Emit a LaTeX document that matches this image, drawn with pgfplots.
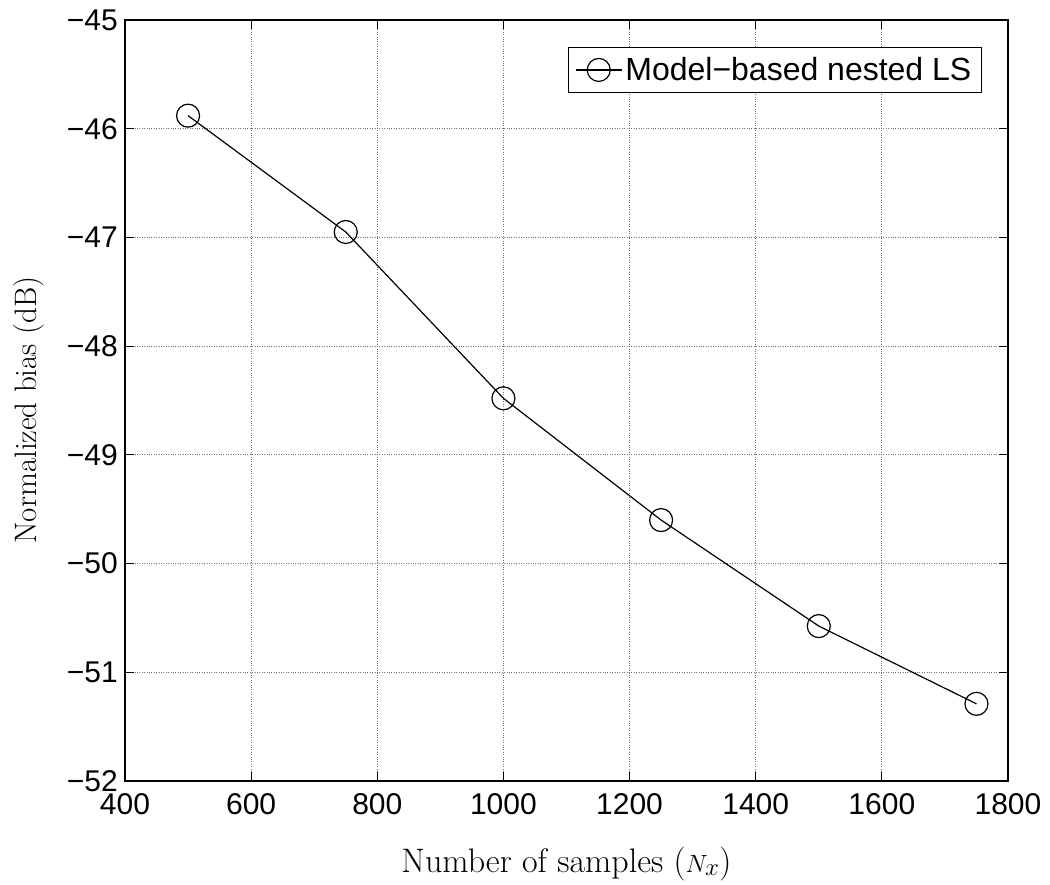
\documentclass[border=0pt]{standalone}
\usepackage{fontspec}
\newfontfamily\hv{Liberation Sans}
\usepackage{pgfplots}
\pgfplotsset{compat=1.18}
\begin{document}
\begin{tikzpicture}
\begin{axis}[
  scale only axis,
  width=883pt, height=761pt,
  xmin=400, xmax=1800, ymin=-52, ymax=-45,
  xtick={400,600,800,1000,1200,1400,1600,1800},
  xticklabels={400,600,800,1000,1200,1400,1600,1800},
  ytick={-52,-51,-50,-49,-48,-47,-46,-45},
  yticklabels={−52,−51,−50,−49,−48,−47,−46,−45},
  tick align=inside,
  major tick length=9pt,
  tick style={line width=1pt, black},
  axis line style={line width=1.3pt},
  grid=major,
  major grid style={dotted, line width=1pt, black!55},
  ticklabel style={font=\hv\fontsize{30}{30}\selectfont, inner sep=0pt},
  yticklabel style={anchor=east, xshift=-7pt},
  xticklabel style={anchor=north, yshift=-12pt},
  xlabel={Number of samples ($N_x$)},
  ylabel={Normalized bias (dB)},
  xlabel style={font=\fontsize{34}{34}\selectfont, at={(axis description cs:0.5,0)}, anchor=base, yshift=-91pt},
  ylabel style={font=\fontsize{31}{31}\selectfont, at={(axis description cs:-0.1087,0.4875)}, anchor=center},
  legend style={at={(axis description cs:1,1)}, anchor=north east, xshift=-26pt, yshift=-27pt,
    draw=black, line width=1.2pt, inner xsep=7pt, inner ysep=6pt,
    font=\hv\fontsize{32}{32}\selectfont,
    nodes={inner xsep=3pt, inner ysep=4pt}},
  legend cell align=left,
  legend image code/.code={
    \draw[#1, line width=1.2pt] (0pt,0pt) -- (46pt,0pt);
    \draw[#1, line width=1.2pt, mark=o, mark size=11.5pt, mark options={line width=1.2pt}] plot coordinates {(23pt,0pt)};
  },
]
\addplot[black, line width=1.2pt, mark=o, mark size=11.5pt, mark options={line width=1.2pt}]
  coordinates {(500,-45.88) (750,-46.95) (1000,-48.48) (1250,-49.60) (1500,-50.575) (1750,-51.29)};
\addlegendentry{Model−based nested LS}
\coordinate (bl) at (rel axis cs:0,0);
\coordinate (tr) at (rel axis cs:1,1);
\end{axis}
\pgfresetboundingbox
\path ([shift={(-125pt,-103pt)}]bl) rectangle ([shift={(42pt,20pt)}]tr);
\end{tikzpicture}
\end{document}
